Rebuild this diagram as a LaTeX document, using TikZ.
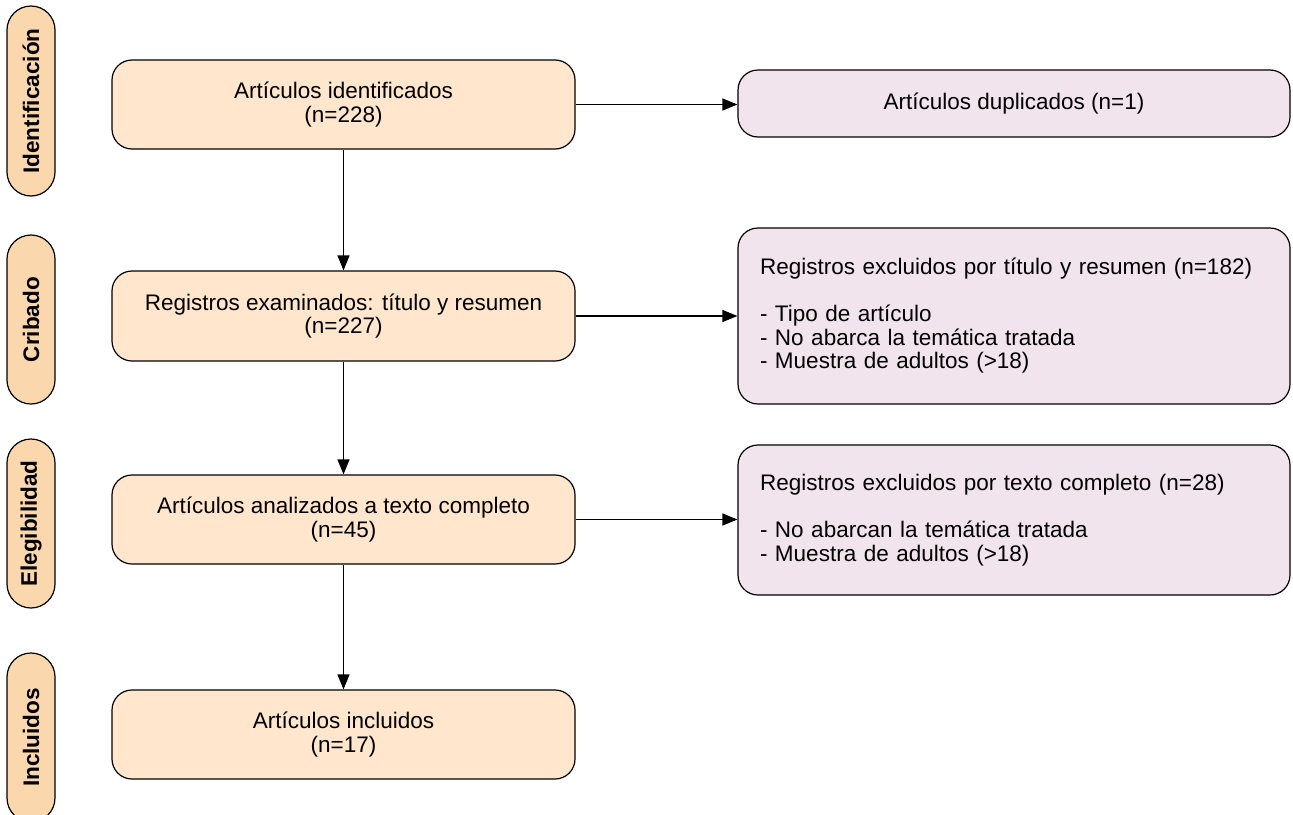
\documentclass[tikz,border=0pt]{standalone}
\usepackage{fontspec}
\setmainfont{Liberation Sans}
\usepackage{tikz}
\usetikzlibrary{arrows.meta}
\definecolor{stagefill}{HTML}{FFE6CC}
\definecolor{phasefill}{HTML}{FAD7AC}
\definecolor{exclfill}{HTML}{F2E4EC}
\tikzstyle{es} = [-{Triangle[length=15pt,width=12pt]}]
\tikzstyle{stage} = [draw, fill=stagefill, rounded corners=20pt, minimum width=463pt, minimum height=89pt, align=center, font=\fontsize{22.5}{23.5}\selectfont]
\tikzstyle{dup} = [draw, fill=exclfill, rounded corners=20pt, minimum width=552pt, align=center, font=\fontsize{22.5}{23.5}\selectfont]
\tikzstyle{excl} = [draw, fill=exclfill, rounded corners=20pt, text width=508pt, inner xsep=22pt, align=left, font=\fontsize{22.5}{23.5}\selectfont]
\tikzstyle{phase} = [draw, fill=phasefill, rounded corners=24pt, minimum height=48pt, rotate=90, font=\bfseries\fontsize{22.5}{23.5}\selectfont]

\begin{document}
\begin{tikzpicture}[yscale=-1,line width=1.2pt]
			\useasboundingbox (0pt,0pt) rectangle (1293pt,814pt);
			% phases
			\node[phase,minimum width=190pt] (identificacion) at (31pt,101pt) {Identificación};
			\node[phase,minimum width=169pt] (cribado) at (31pt,319.5pt) {Cribado};
			\node[phase,minimum width=169pt] (elegibilidad) at (31pt,523.5pt) {Elegibilidad};
			\node[phase,minimum width=169pt] (incluidos) at (31pt,737.5pt) {Incluidos};
			% main flow
			\node[stage] (identificados) at (343.5pt,104.5pt) {Artículos identificados\\(n=228)};
			\node[stage,minimum height=90pt] (examinados) at (343.5pt,316pt) {Registros examinados: título y resumen\\(n=227)};
			\node[stage] (analizados) at (343.5pt,519.5pt) {Artículos analizados a texto completo\\(n=45)};
			\node[stage] (incluidosbox) at (343.5pt,734.5pt) {Artículos incluidos\\(n=17)};
			% exclusions
			\node[dup,minimum height=67pt] (duplicados) at (1014pt,103.5pt) {Artículos duplicados (n=1)};
			\node[excl,minimum height=176pt] (exclresumen) at (1014pt,316pt) {Registros excluidos por título y resumen (n=182)\\[23.5pt]- Tipo de artículo\\- No abarca la temática tratada\\- Muestra de adultos (>18)};
			\node[excl,minimum height=150pt] (excltexto) at (1014pt,520pt) {Registros excluidos por texto completo (n=28)\\[23.5pt]- No abarcan la temática tratada\\- Muestra de adultos (>18)};
			% arrows
			\draw[es] (identificados) -- (examinados);
			\draw[es] (examinados) -- (analizados);
			\draw[es] (analizados) -- (incluidosbox);
			\draw[es] (identificados.east) -- (duplicados.west |- identificados.east);
			\draw[es] (examinados) -- (exclresumen);
			\draw[es] (analizados.east) -- (excltexto.west |- analizados.east);
		\end{tikzpicture}
\end{document}
